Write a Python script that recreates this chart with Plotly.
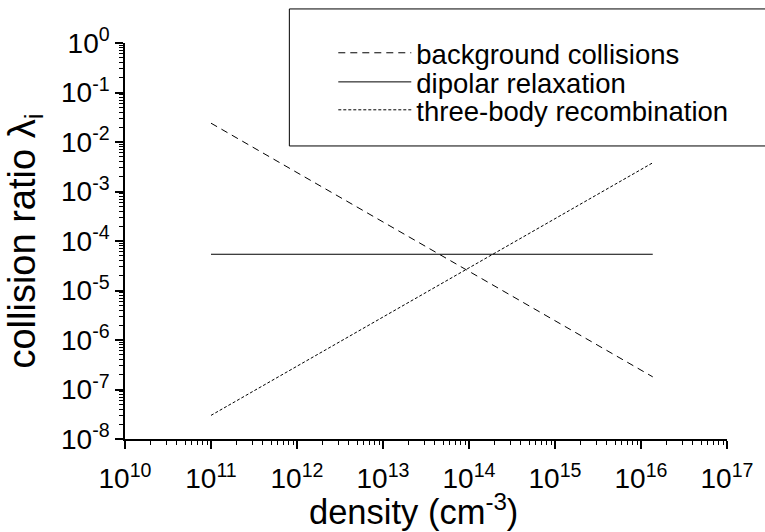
import plotly.graph_objects as go

# ---- data ----
density = [1e11, 1.37e16]
background_collisions = [2.4e-2, 1.8e-7]
dipolar_relaxation = [5.4e-5, 5.4e-5]
three_body_recombination = [3.0e-8, 3.8e-3]

series_names = ["background collisions", "dipolar relaxation", "three-body recombination"]

x_exponents = [10, 11, 12, 13, 14, 15, 16, 17]
y_exponents = [0, -1, -2, -3, -4, -5, -6, -7, -8]
x_tickvals = [10.0 ** e for e in x_exponents]
x_ticktext = ["10<sup>%d</sup>" % e for e in x_exponents]
y_tickvals = [10.0 ** e for e in y_exponents]
y_ticktext = ["10<sup>%d</sup>" % e for e in y_exponents]

x_minor = [m * 10.0 ** e for e in range(10, 17) for m in range(2, 10)]
y_minor = [m * 10.0 ** e for e in range(-8, 0) for m in range(2, 10)]

FONT = "Arial, Liberation Sans, sans-serif"

fig = go.Figure()
fig.add_trace(go.Scatter(x=density, y=background_collisions, mode="lines",
                         name=series_names[0], legend="legend",
                         line=dict(color="black", width=1, dash="7px,5px")))
fig.add_trace(go.Scatter(x=density, y=dipolar_relaxation, mode="lines",
                         name=series_names[1], legend="legend2",
                         line=dict(color="black", width=1)))
fig.add_trace(go.Scatter(x=density, y=three_body_recombination, mode="lines",
                         name=series_names[2], legend="legend3",
                         line=dict(color="black", width=1, dash="3px,2px")))

axis_common = dict(
    type="log", showgrid=False, zeroline=False, showline=True,
    linecolor="black", linewidth=1.5, mirror=False,
    ticks="outside", ticklen=8, tickwidth=1.5, tickcolor="black",
    tickmode="array",
    tickfont=dict(family=FONT, size=28, color="black"),
)

fig.update_layout(
    width=765, height=532,
    margin=dict(l=125, r=29, t=43, b=93),
    paper_bgcolor="white", plot_bgcolor="white",
    font=dict(family=FONT, color="black"),
    xaxis=dict(axis_common, range=[10, 17], tickvals=x_tickvals, ticktext=x_ticktext,
               ticklabelstandoff=6,
               minor=dict(ticks="outside", ticklen=4, tickwidth=1, tickcolor="black",
                          tickvals=x_minor)),
    yaxis=dict(axis_common, range=[-8, 0], tickvals=y_tickvals, ticktext=y_ticktext,
               minor=dict(ticks="outside", ticklen=4, tickwidth=1, tickcolor="black",
                          tickvals=y_minor),
               title=dict(text="collision ratio λ<sub>i</sub>", standoff=14,
                          font=dict(family=FONT, size=38, color="black"))),
    showlegend=True,
)

# x-axis title (placed as in the reference, slightly left of centre)
fig.add_annotation(text="density (cm<sup>-3</sup>)", xref="paper", yref="paper",
                   x=0.480, y=-0.177, xanchor="center", yanchor="middle",
                   showarrow=False, font=dict(family=FONT, size=34.5, color="black"))

leg_common = dict(xref="paper", yref="paper", xanchor="left", yanchor="middle",
                  bgcolor="rgba(0,0,0,0)", borderwidth=0, itemwidth=73,
                  font=dict(family=FONT, size=27.5, color="black"))
fig.update_layout(
    legend=dict(leg_common, x=0.346, y=0.975),
    legend2=dict(leg_common, x=0.346, y=0.9015),
    legend3=dict(leg_common, x=0.346, y=0.831),
)

# legend frame
fig.add_shape(type="rect", xref="paper", yref="paper",
              x0=0.273, x1=1.07, y0=0.740, y1=1.086,
              line=dict(color="black", width=1), fillcolor="rgba(0,0,0,0)", layer="above")

fig.write_html("out.html")
